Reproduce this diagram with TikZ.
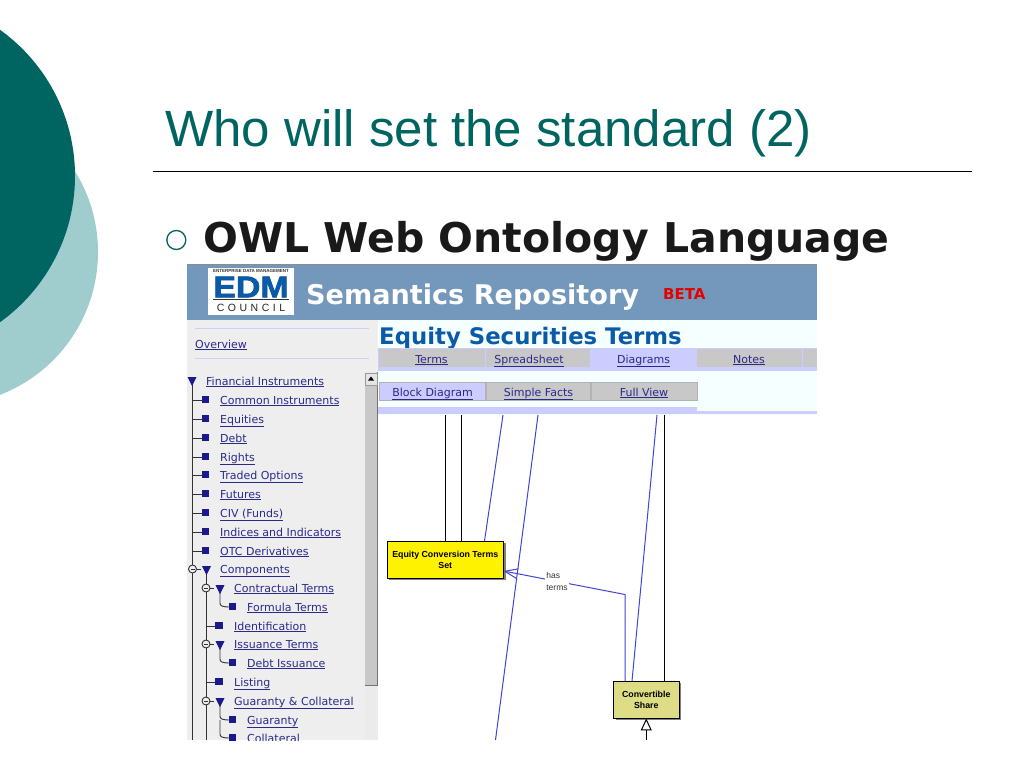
\documentclass[tikz,border=0pt]{standalone}
\usepackage{fontspec}
\setmainfont{Liberation Sans}
\newfontfamily\verafont{DejaVu Sans}
\newfontfamily\edmfont[BoldFeatures={FakeBold=2}]{Liberation Sans}
\usetikzlibrary{arrows.meta}
\definecolor{tealdark}{HTML}{006461}
\definecolor{teallight}{HTML}{9FCDCD}
\definecolor{headblue}{HTML}{7498BB}
\definecolor{termblue}{HTML}{0B5AA8}
\definecolor{paneice}{HTML}{F5FFFF}
\definecolor{panegray}{HTML}{EEEEEE}
\definecolor{tabgray}{HTML}{C8C8C8}
\definecolor{tablilac}{HTML}{CCCCFF}
\definecolor{linkblue}{HTML}{2A2A8C}
\definecolor{treeblue}{HTML}{1A1A8C}
\definecolor{edgeblue}{HTML}{4444D4}
\definecolor{shareyellow}{HTML}{DEDC84}
\tikzset{
  linktext/.style={font=\verafont\fontsize{11}{11}\selectfont, text=linkblue, inner sep=0pt, anchor=base west},
  tabtext/.style={font=\verafont\fontsize{11}{11}\selectfont, text=linkblue, inner sep=0pt, anchor=base},
  treebox/.style={draw=black, line width=.9pt, align=center, font=\bfseries\fontsize{8.8}{11}\selectfont, inner sep=0pt},
  bluewire/.style={draw=edgeblue, line width=1pt},
  blackwire/.style={draw=black, line width=1pt},
  treeline/.style={draw=black!80, line width=.9pt},
}
\begin{document}
\begin{tikzpicture}[x=1pt, y=-1pt]
\useasboundingbox (0,0) rectangle (1024,768);
\fill[white] (0,0) rectangle (1024,768);
% circles on the left
\begin{scope}
\clip (0,0) rectangle (1024,768);
\fill[teallight] (-55,252) circle (153);
\fill[tealdark] (-105,176) circle (180);
\end{scope}
% title
\node[anchor=base west, inner sep=0pt, text=tealdark, font=\fontsize{51}{51}\selectfont] (title) at (165,146) {Who will set the standard (2)};
\draw[line width=1pt] (153,171) -- (972,171);
\node[draw=tealdark, circle, line width=1.3pt, minimum size=19pt, inner sep=0pt] (bullet) at (176.3,240) {};
\node[anchor=base west, inner sep=0pt, font=\verafont\bfseries\fontsize{41}{41}\selectfont, text=black!90] (owl) at (203,252) {OWL Web Ontology Language};
% screenshot panes
\fill[paneice] (187,320) rectangle (817,415);
\fill[headblue] (187,265) rectangle (817,320);
\fill[black!45] (187,264) rectangle (817,265);
\fill[panegray] (187,320) rectangle (378,740);
% logo
\node[fill=white, minimum width=86pt, minimum height=47pt, inner sep=0pt] (logo) at (251,291) {};
\node[inner sep=0pt, font=\bfseries\fontsize{4.5}{4}\selectfont, text=black!80] (logotop) at (251,271) {ENTERPRISE DATA MANAGEMENT};
\node[inner sep=0pt, xscale=1.13, font=\edmfont\bfseries\fontsize{30}{30}\selectfont, text=termblue] (logoedm) at (251,287) {EDM};
\draw[black!80] (213,299.5) -- (289,299.5);
\node[inner sep=0pt, font=\fontsize{10.5}{11}\selectfont, text=black!85] (logocouncil) at (251,307.5) {C\,\,O\,\,U\,\,N\,\,C\,\,I\,\,L};
% heading
\node[anchor=base west, inner sep=0pt, text=white, font=\verafont\bfseries\fontsize{27.1}{27}\selectfont] (repo) at (306,304) {Semantics Repository};
\node[anchor=base west, inner sep=0pt, text=red!90!black, font=\verafont\bfseries\fontsize{15}{15}\selectfont] (beta) at (663,299) {BETA};
\node[anchor=base west, inner sep=0pt, text=termblue, font=\verafont\bfseries\fontsize{22.8}{24}\selectfont] (terms) at (379,344) {Equity Securities Terms};
% left menu
\foreach \y in {327.5,357.5} \fill[tablilac] (195,\y) rectangle (369,\y+1.5);
\node[linktext] (overview) at (195,348) {\underline{Overview}};
% upper tabs
\fill[tablilac] (378,348) rectangle (817,371);
\foreach \a/\b/\c in {379/485/tabgray,486/590/tabgray,591/696/tablilac,697/802/tabgray,803/817/tabgray}
  \fill[\c] (\a,349) rectangle (\b,367);
\foreach \x/\txt in {431.5/Terms,529/Spreadsheet,643.5/Diagrams,749/Notes}
  \node[tabtext] (tab\txt) at (\x,363) {\underline{\txt}};
% lower tabs
\fill[tablilac] (378,407) rectangle (697,414);
\fill[tablilac] (697,411) rectangle (817,414);
\foreach \a/\b/\c in {379/485/tablilac,486/590/tabgray,591/697/tabgray}
  \filldraw[fill=\c, draw=black!30] (\a,382) rectangle (\b,400);
\foreach \x/\n/\txt in {432.5/block/Block Diagram,538.5/facts/Simple Facts,644/full/Full View}
  \node[tabtext] (sub\n) at (\x,396) {\underline{\txt}};
% scrollbar
\fill[black!8] (365,372) rectangle (378,740);
\fill[tabgray] (365,386) rectangle (377,685);
\draw[black!55, line width=1pt] (377.5,372) -- (377.5,685) -- (365,685);
\node[draw=black!40, fill=black!10, minimum size=12pt, inner sep=0pt] (scrollup) at (371,379) {};
\fill[black] (371,376.5) -- (374,380.5) -- (368,380.5) -- cycle;
% tree
\begin{scope}
\clip (187,320) rectangle (378,740);
\draw[treeline] (192,380) -- (192,740);
\draw[treeline] (206,569) -- (206,740);
\foreach \y in {400,419,438,457,475,494,513,532,551} {
  \draw[treeline] (192,\y) -- (203,\y);
  \fill[treeblue] (201.5,\y-4) rectangle (209,\y+3);
}
\foreach \y in {626,682} {
  \draw[treeline] (206,\y) -- (217,\y);
  \fill[treeblue] (215,\y-4) rectangle (223,\y+3);
}
\foreach \y/\yy in {588/607,644/663,701/720,720/738} {
  \draw[treeline] (220,\y) -- (220,\yy-4) .. controls (220,\yy-1) and (222,\yy) .. (231,\yy);
  \fill[treeblue] (229,\yy-4) rectangle (236,\yy+3);
}
\foreach \x/\y in {192/381,206.5/570,220/589,220/645,220/702}
  \fill[treeblue] (\x-4.5,\y-4) -- (\x+4.5,\y-4) -- (\x,\y+5) -- cycle;
\foreach \x/\y in {192.5/569,206/588,206/644,206/701} {
  \draw[treeline, fill=panegray] (\x,\y) circle (4);
  \draw[treeline] (\x-2,\y) -- (\x+2,\y);
  \draw[treeline] (\x+4,\y) -- (\x+8,\y);
}
\foreach \y/\x/\txt in {381/206/Financial Instruments,400/220/Common Instruments,419/220/Equities,438/220/Debt,457/220/Rights,475/220/Traded Options,494/220/Futures,513/220/CIV (Funds),532/220/Indices and Indicators,551/220/OTC Derivatives,569/220/Components,588/234/Contractual Terms,607/247/Formula Terms,626/234/Identification,644/234/Issuance Terms,663/247/Debt Issuance,682/234/Listing,701/234/Guaranty \& Collateral,720/247/Guaranty,738/247/Collateral}
  \node[linktext] (item\y) at (\x,\y+4) {\underline{\txt}};
\end{scope}
% diagram boxes
\fill[black!50] (389,543) rectangle (505.5,580);
\fill[black!50] (615.5,683) rectangle (681,720);
\node[treebox, fill=yellow, minimum width=116.5pt, minimum height=37pt] (eqterms) at (445.25,559.5) {Equity Conversion Terms\\Set};
\node[treebox, fill=shareyellow, minimum width=65.5pt, minimum height=37pt] (share) at (646.25,699.5) {Convertible\\Share};
% free ends of the connectors
\coordinate (topa) at (445.5,415);
\coordinate (topb) at (461.5,415);
\coordinate (topc) at (664.5,415);
\coordinate (topd) at (503,415);
\coordinate (tope) at (538,415);
\coordinate (topf) at (657,415);
\coordinate (lowe) at (495.5,740);
\coordinate (lowg) at (646.25,740);
\coordinate (bend) at (625,594.5);
\coordinate (hitd) at (484.5,541);
\coordinate (hitf) at (632,681);
\coordinate (hitt) at (503.5,571);
\coordinate (hits) at (625,681);
\foreach \a in {topa,topb} \draw[blackwire] (\a) -- (\a |- eqterms.north);
\draw[blackwire] (topc) -- (topc |- share.north);
\draw[bluewire] (topd) -- (hitd);
\draw[bluewire] (tope) -- (lowe);
\draw[bluewire] (topf) -- (hitf);
\draw[blackwire, -{Triangle[open, length=12pt, width=11pt, fill=white]}] (lowg) -- (share.south);
\draw[bluewire, -{Straight Barb[length=13pt, width=10pt]}] (hits) -- (bend) -- (hitt);
\node[fill=white, inner sep=0pt, minimum width=24pt, minimum height=23pt, align=left, font=\fontsize{8.5}{11.5}\selectfont, text=black!80] (hasterms) at (557,581.5) {has\\terms};
\end{tikzpicture}
\end{document}
